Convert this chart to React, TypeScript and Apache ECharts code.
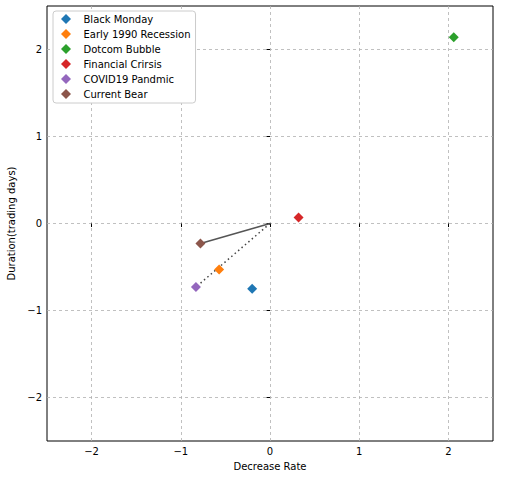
import React, { useEffect, useRef } from 'react';
import * as echarts from 'echarts/core';
import { GridComponent, LegendComponent } from 'echarts/components';
import { ScatterChart, LineChart } from 'echarts/charts';
import { SVGRenderer } from 'echarts/renderers';

echarts.use([GridComponent, LegendComponent, ScatterChart, LineChart, SVGRenderer]);

// events and their standardised coordinates
const eventNames = [
  'Black Monday',
  'Early 1990 Recession',
  'Dotcom Bubble',
  'Financial Crirsis',
  'COVID19 Pandmic',
  'Current Bear'
];
const decreaseRate = [-0.2, -0.57, 2.06, 0.32, -0.83, -0.78];
const duration = [-0.75, -0.53, 2.14, 0.07, -0.73, -0.23];
const eventColors = ['#1f77b4', '#ff7f0e', '#2ca02c', '#d62728', '#9467bd', '#8c564b'];

// lines from the origin: solid to Current Bear, dotted to COVID19
const solidTarget = 5;
const dottedTarget = 4;

const FONT = 'DejaVu Sans';

const App: React.FC = () => {
  const chartRef = useRef<HTMLDivElement>(null);

  useEffect(() => {
    if (!chartRef.current) return;
    const chart = echarts.init(chartRef.current, null, { renderer: 'svg' });

    const axisCommon = {
      type: 'value',
      min: -2.5,
      max: 2.5,
      nameLocation: 'middle',
      nameTextStyle: { color: '#000', fontSize: 10, fontFamily: FONT },
      axisLine: { show: false },
      axisTick: { show: true, inside: false, length: 3.5, lineStyle: { color: '#000' } },
      axisLabel: {
        color: '#000',
        fontSize: 10,
        fontFamily: FONT,
        margin: 5,
        showMinLabel: false,
        showMaxLabel: false,
        formatter: (v: number) => (v < 0 ? '\u2212' + Math.abs(v) : String(v))
      },
      splitLine: {
        show: true,
        showMinLine: false,
        showMaxLine: false,
        lineStyle: { color: '#b0b0b0', type: [3, 3], width: 0.8 }
      }
    };

    const option = {
      animation: false,
      backgroundColor: '#fff',
      grid: {
        left: 47,
        right: 17,
        top: 6,
        bottom: 39,
        containLabel: false,
        outerBoundsMode: 'none',
        show: true,
        borderColor: '#000',
        borderWidth: 1,
        backgroundColor: 'transparent'
      },
      xAxis: { ...axisCommon, name: 'Decrease Rate', nameGap: 20 },
      yAxis: { ...axisCommon, name: 'Duration(trading days)', nameGap: 24 },
      legend: {
        data: eventNames,
        orient: 'vertical',
        left: 53,
        top: 11,
        padding: [3, 5, 4, 8],
        itemGap: 5,
        itemWidth: 10,
        itemHeight: 10,
        icon: 'diamond',
        backgroundColor: '#fff',
        borderColor: '#ccc',
        borderWidth: 1,
        borderRadius: 3,
        textStyle: {
          color: '#000',
          fontSize: 10,
          fontFamily: FONT,
          lineHeight: 10,
          padding: [0, 0, 0, 7.5]
        }
      },
      series: [
        {
          type: 'line',
          data: [
            [0, 0],
            [decreaseRate[solidTarget], duration[solidTarget]]
          ],
          symbol: 'none',
          lineStyle: { color: '#555', width: 1.5 },
          z: 1
        },
        {
          type: 'line',
          data: [
            [0, 0],
            [decreaseRate[dottedTarget], duration[dottedTarget]]
          ],
          symbol: 'none',
          lineStyle: { color: '#444', width: 1.5, type: [1.5, 3] },
          z: 1
        },
        ...eventNames.map((name, i) => ({
          name,
          type: 'scatter',
          symbol: 'diamond',
          symbolSize: [10, 10],
          itemStyle: { color: eventColors[i], opacity: 1 },
          data: [[decreaseRate[i], duration[i]]],
          z: 3
        }))
      ]
    };

    //@ts-ignore
    chart.setOption(option);

    return () => {
      chart.dispose();
    };
  }, []);

  return (
    <div
      ref={chartRef}
      style={{ position: 'fixed', left: 0, top: 0, width: '510px', height: '480px' }}
    />
  );
};

export default App;
